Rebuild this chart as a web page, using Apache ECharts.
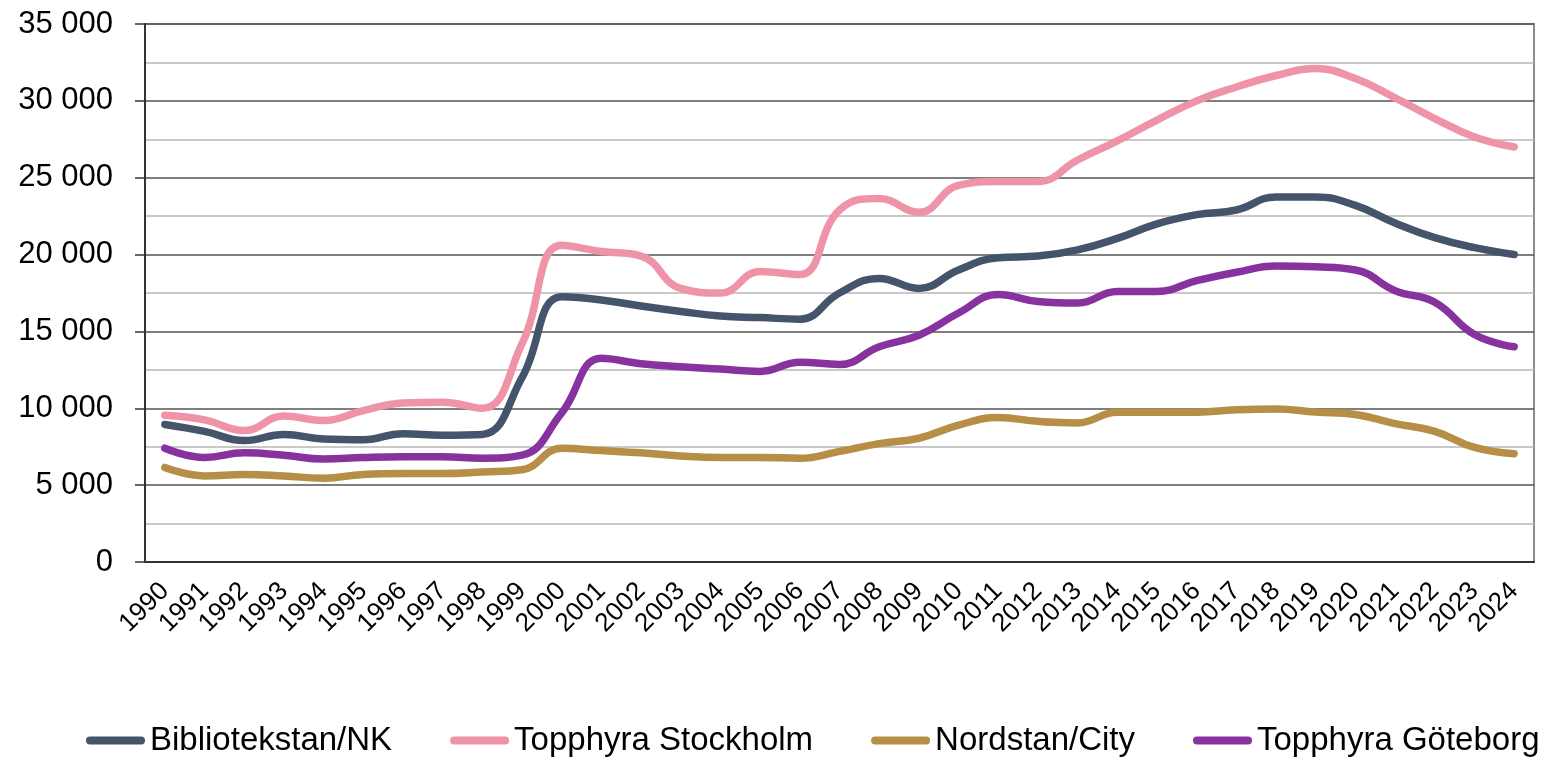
<!DOCTYPE html>
<html>
<head>
<meta charset="utf-8">
<script src="https://cdn.jsdelivr.net/npm/echarts/dist/echarts.min.js"></script>
<style>
  html, body { margin: 0; padding: 0; background: #fff; }
  #main { width: 1546px; height: 758px; }
</style>
</head>
<body>
<div id="main"></div>
<script>
// årtal på x-axeln
var years = [];
for (var y = 1990; y <= 2024; y++) years.push(String(y));

var seriesNames = ['Bibliotekstan/NK', 'Topphyra Stockholm', 'Nordstan/City', 'Topphyra Göteborg'];

var bibliotekstan = [8950, 8500, 7900, 8300, 8000, 7950, 8350, 8250, 8300, 12000,
  17250, 17050, 16650, 16300, 16000, 15900, 15800, 17500, 18450, 17800,
  19000, 19800, 19900, 20300, 21050, 22000, 22600, 22900, 23750, 23750,
  23200, 22050, 21100, 20450, 20000];

var stockholm = [9550, 9250, 8550, 9500, 9200, 9850, 10350, 10400, 10000, 14200,
  20600, 20200, 19900, 17800, 17500, 18900, 18700, 22900, 23650, 22750,
  24500, 24750, 24750, 26150, 27400, 28750, 30000, 30900, 31650, 32100,
  31450, 30200, 28850, 27650, 27000];

var nordstan = [6150, 5600, 5700, 5600, 5450, 5700, 5750, 5750, 5850, 6000,
  7400, 7250, 7100, 6900, 6800, 6800, 6750, 7200, 7700, 8050,
  8900, 9400, 9150, 9050, 9750, 9750, 9750, 9900, 9950, 9750,
  9600, 9000, 8500, 7450, 7050];

var goteborg = [7400, 6800, 7100, 6950, 6700, 6800, 6850, 6850, 6750, 6950,
  9700, 13250, 12900, 12700, 12550, 12400, 13000, 12850, 14000, 14750,
  16200, 17400, 16950, 16850, 17600, 17600, 18300, 18850, 19250, 19200,
  19000, 17650, 16900, 14800, 14000];

var colors = ['#44546a', '#ef93a9', '#b68e45', '#8832a0'];
var font = "'Liberation Sans', Arial, sans-serif";

function fmt(v) {
  return String(v).replace(/\B(?=(\d{3})+(?!\d))/g, ' ');
}

function line(name, data, color) {
  return {
    name: name,
    type: 'line',
    data: data,
    smooth: 0.45,
    symbol: 'none',
    lineStyle: { width: 7.5, color: color, cap: 'round', join: 'round' },
    itemStyle: { color: color }
  };
}

var myChart = echarts.init(document.getElementById('main'));
myChart.setOption({
  animation: false,
  color: colors,
  textStyle: { fontFamily: font, color: '#000' },
  grid: {
    left: 145, right: 12, top: 24, bottom: 196,
    show: true, borderColor: '#8c8c8c', borderWidth: 2
  },
  legend: {
    left: 86,
    top: 724,
    padding: 0,
    width: 1480,
    itemGap: 58,
    itemWidth: 59,
    itemHeight: 8,
    icon: 'path://M4,0 H56 A4,4 0 0 1 56,8 H4 A4,4 0 0 1 4,0 Z',
    textStyle: { fontSize: 33, fontFamily: font, color: '#000' },
    data: seriesNames
  },
  xAxis: {
    type: 'category',
    boundaryGap: true,
    data: years,
    axisLine: { lineStyle: { color: '#333', width: 2 } },
    axisTick: { length: 7, lineStyle: { color: '#333', width: 1.5 } },
    axisLabel: { rotate: 45, fontSize: 26, margin: 25, color: '#000', interval: 0 }
  },
  yAxis: {
    type: 'value',
    min: 0,
    max: 35000,
    interval: 5000,
    axisLine: { show: true, lineStyle: { color: '#333', width: 2 } },
    axisTick: { show: true, length: 10, lineStyle: { color: '#333', width: 1.5 } },
    axisLabel: { fontSize: 31, margin: 32, color: '#000', formatter: fmt },
    splitLine: { lineStyle: { color: '#555', width: 1.5 } },
    minorTick: { show: false, splitNumber: 2 },
    minorSplitLine: { show: true, lineStyle: { color: '#b8b8b8', width: 1.5 } }
  },
  series: [
    line(seriesNames[0], bibliotekstan, colors[0]),
    line(seriesNames[1], stockholm, colors[1]),
    line(seriesNames[2], nordstan, colors[2]),
    line(seriesNames[3], goteborg, colors[3])
  ]
});
</script>
</body>
</html>
